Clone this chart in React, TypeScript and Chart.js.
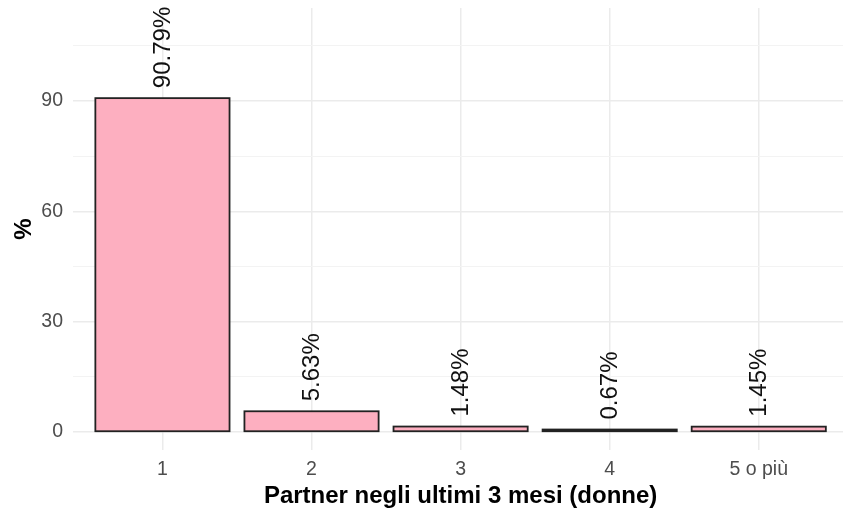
import React, { useEffect, useRef } from "react";
import { Chart, registerables } from "chart.js";

Chart.register(...registerables);

const categories = ["1", "2", "3", "4", "5 o più"];
const values = [90.79, 5.63, 1.48, 0.67, 1.45];
const yTickValues = [0, 15, 30, 45, 60, 75, 90, 105];
const yLabelStep = 30;
const xTitle = "Partner negli ultimi 3 mesi (donne)";
const yTitle = "%";

const FONT = "'Liberation Sans', Arial, sans-serif";

const labelPlugin = {
  id: "barLabels",
  afterDatasetsDraw(chart: any) {
    const ctx = chart.ctx;
    const meta = chart.getDatasetMeta(0);
    ctx.save();
    ctx.strokeStyle = "#222222";
    ctx.lineWidth = 1.8;
    ctx.lineJoin = "miter";
    meta.data.forEach((el: any) => {
      const p = el.getProps(["x", "y", "base", "width"], true);
      const left = p.x - p.width / 2;
      const top = Math.min(p.y, p.base);
      const h = Math.abs(p.base - p.y);
      ctx.strokeRect(left, top, p.width, h);
    });
    ctx.font = `24px ${FONT}`;
    ctx.fillStyle = "#111111";
    ctx.textAlign = "left";
    ctx.textBaseline = "middle";
    meta.data.forEach((el: any, i: number) => {
      ctx.save();
      ctx.translate(el.x + 1, el.y - 10);
      ctx.rotate(-Math.PI / 2);
      ctx.fillText(values[i].toFixed(2) + "%", 0, 0);
      ctx.restore();
    });
    ctx.restore();
  },
  afterDraw(chart: any) {
    const ctx = chart.ctx;
    const area = chart.chartArea;
    ctx.save();
    ctx.fillStyle = "#000000";
    ctx.font = `bold 24px ${FONT}`;
    ctx.textAlign = "center";
    ctx.textBaseline = "alphabetic";
    const xs = chart.scales.x;
    const cx = xs.getPixelForValue(3);
    ctx.fillText(xTitle, cx, 503);
    ctx.save();
    ctx.translate(31, (area.top + area.bottom) / 2);
    ctx.rotate(-Math.PI / 2);
    ctx.textBaseline = "alphabetic";
    ctx.fillText(yTitle, 0, 0);
    ctx.restore();
    ctx.restore();
  },
};

export default function App() {
  const ref = useRef<HTMLCanvasElement>(null);
  useEffect(() => {
    if (!ref.current) return;
    const chart = new Chart(ref.current, {
      type: "bar",
      data: {
        datasets: [
          {
            data: values.map((v, i) => ({ x: i + 1, y: v })),
            backgroundColor: "#FDAFC0",
            borderWidth: 0,
            categoryPercentage: 1,
            barPercentage: 0.9,
          },
        ],
      },
      options: {
        animation: false,
        responsive: false,
        maintainAspectRatio: false,
        layout: { padding: { top: 8, right: 0, left: 0, bottom: 0 } },
        plugins: {
          legend: { display: false },
          tooltip: { enabled: false },
        },
        scales: {
          x: {
            type: "linear",
            min: 0.4,
            max: 5.565,
            offset: false,
            border: { display: false },
            grid: {
              offset: false,
              drawTicks: false,
              color: "#EBEBEB",
              lineWidth: 1.5,
            },
            afterBuildTicks: (s: any) => {
              s.ticks = categories.map((_, i) => ({ value: i + 1 }));
            },
            afterFit: (s: any) => {
              s.height = 58;
              s.paddingLeft = 0;
              s.paddingRight = 0;
            },
            ticks: {
              autoSkip: false,
              maxRotation: 0,
              padding: 8,
              color: "#4D4D4D",
              font: { family: FONT, size: 19.5 },
              callback: (v: any) => categories[Math.round(v) - 1] ?? "",
            },
          },
          y: {
            type: "linear",
            min: -4.9,
            max: 115.3,
            border: { display: false },
            grid: {
              drawTicks: false,
              color: (c: any) =>
                c.tick && c.tick.value % yLabelStep === 0 ? "#EBEBEB" : "#F3F3F3",
              lineWidth: (c: any) =>
                c.tick && c.tick.value % yLabelStep === 0 ? 1.5 : 1,
            },
            afterBuildTicks: (s: any) => {
              s.ticks = yTickValues.map((v) => ({ value: v }));
            },
            afterFit: (s: any) => {
              s.width = 73;
              s.paddingTop = 0;
              s.paddingBottom = 0;
            },
            ticks: {
              autoSkip: false,
              padding: 10,
              color: "#4D4D4D",
              font: { family: FONT, size: 19.5 },
              callback: (v: any) => (v % yLabelStep === 0 ? String(v) : ""),
            },
          },
        },
      } as any,
      plugins: [labelPlugin],
    });
    return () => chart.destroy();
  }, []);
  return (
    <div style={{ position: "fixed", left: 0, top: 0, width: 843, height: 508, background: "#fff" }}>
      <canvas ref={ref} width={843} height={508} style={{ display: "block" }} />
    </div>
  );
}
